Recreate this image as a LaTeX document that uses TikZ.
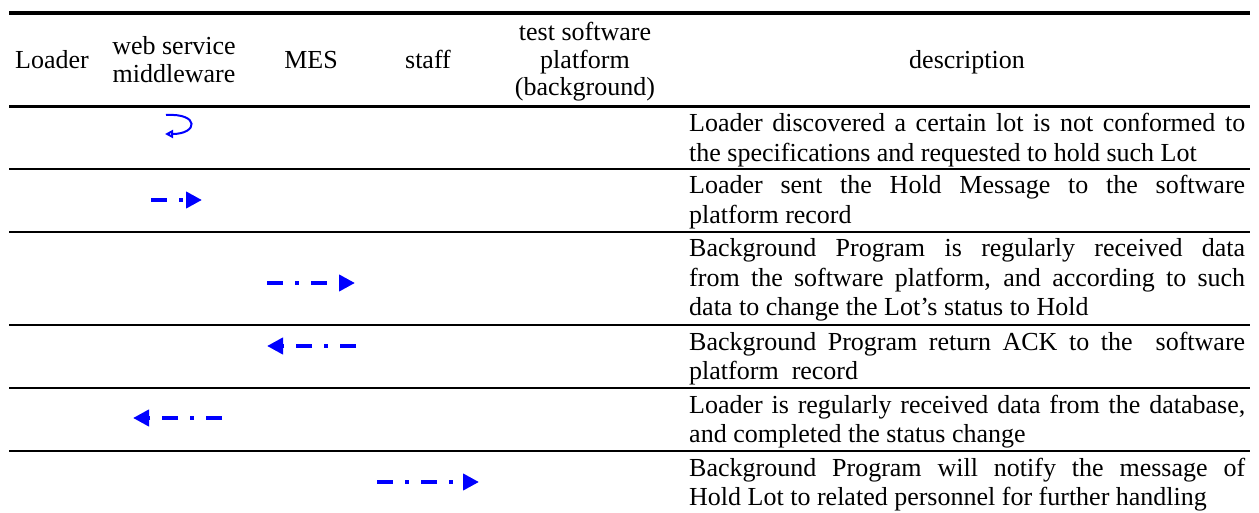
\documentclass[tikz,border=0pt]{standalone}
\usepackage{fontspec}
\setmainfont{Liberation Serif}
\usetikzlibrary{arrows.meta}
\definecolor{flowblue}{RGB}{0,0,255}
\begin{document}
\begin{tikzpicture}[x=1pt,y=-1pt,
 txt/.style={inner sep=0pt, anchor=base, font=\fontsize{26pt}{30pt}\selectfont},
 dtxt/.style={txt, anchor=base west},
 toprule/.style={line width=4.5pt},
 midrule/.style={line width=3pt},
 rowrule/.style={line width=2.3pt},
 flow/.style={flowblue, line width=4.8pt, dash pattern=on 16pt off 12pt on 4pt off 12pt, -{Triangle[length=16pt,width=16pt]}},
 selfloop/.style={flowblue, line width=2pt, -{Triangle[open,length=8pt,width=8pt]}}]
\useasboundingbox (0,0) rectangle (1259,513);
% rules
\draw[toprule] (9,13) -- (1250,13);
\draw[midrule] (9,107) -- (1250,107);
\draw[rowrule] (9,169) -- (1250,169);
\draw[rowrule] (9,232) -- (1250,232);
\draw[rowrule] (9,325) -- (1250,325);
\draw[rowrule] (9,388) -- (1250,388);
\draw[rowrule] (9,451) -- (1250,451);
% header
\node[txt] (hLoader) at (52,69) {Loader};
\node[txt] (hWeb1) at (174,55) {web service};
\node[txt] (hWeb2) at (174,83) {middleware};
\node[txt] (hMES) at (311,69) {MES};
\node[txt] (hStaff) at (428,69) {staff};
\node[txt] (hTest1) at (585,41) {test software};
\node[txt] (hTest2) at (585,68.5) {platform};
\node[txt] (hTest3) at (585,96) {(background)};
\node[txt] (hDesc) at (967,69) {description};
% descriptions
\node[dtxt] (d1a) at (689,132) {\makebox[556pt][s]{Loader discovered a certain lot is not conformed to}};
\node[dtxt] (d1b) at (689,161.5) {the specifications and requested to hold such Lot};
\node[dtxt] (d2a) at (689,194) {\makebox[556pt][s]{Loader sent the Hold Message to the software}};
\node[dtxt] (d2b) at (689,223.5) {platform record};
\node[dtxt] (d3a) at (689,257) {\makebox[556pt][s]{Background Program is regularly received data}};
\node[dtxt] (d3b) at (689,286.5) {\makebox[556pt][s]{from the software platform, and according to such}};
\node[dtxt] (d3c) at (689,316) {data to change the Lot's status to Hold};
\node[dtxt] (d4a) at (689,350) {\makebox[556pt][s]{Background Program return ACK to the\ \ software}};
\node[dtxt] (d4b) at (689,379.5) {platform\ \ record};
\node[dtxt] (d5a) at (689,413) {\makebox[556pt][s]{Loader is regularly received data from the database,}};
\node[dtxt] (d5b) at (689,442.5) {and completed the status change};
\node[dtxt] (d6a) at (689,476) {\makebox[556pt][s]{Background Program will notify the message of}};
\node[dtxt] (d6b) at (689,505.5) {Hold Lot to related personnel for further handling};
% flows
\coordinate (l1s) at (166,115);
\coordinate (l1e) at (165,134);
\draw[selfloop] (l1s) .. controls (200,113) and (198,134) .. (l1e);
\coordinate (a2s) at (151,200);
\coordinate (a2e) at (202,200);
\draw[flow] (a2s) -- (a2e);
\coordinate (a3s) at (267,283);
\coordinate (a3e) at (355,283);
\draw[flow] (a3s) -- (a3e);
\coordinate (a4s) at (356,346);
\coordinate (a4e) at (267,346);
\draw[flow] (a4s) -- (a4e);
\coordinate (a5s) at (222,418);
\coordinate (a5e) at (133,418);
\draw[flow] (a5s) -- (a5e);
\coordinate (a6s) at (377,482);
\coordinate (a6e) at (479,482);
\draw[flow] (a6s) -- (a6e);
\end{tikzpicture}
\end{document}
